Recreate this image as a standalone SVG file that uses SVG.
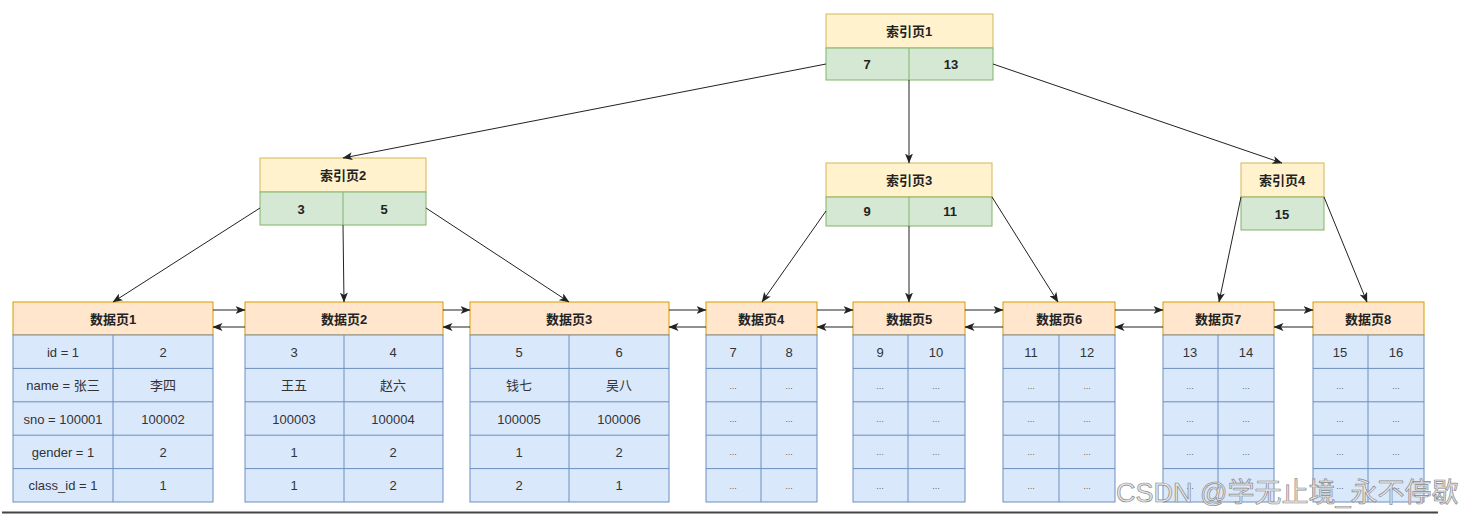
<svg xmlns="http://www.w3.org/2000/svg" width="1470" height="516" viewBox="0 0 1470 516">
<defs>
<marker id="arr" viewBox="0 0 10 8" refX="9.5" refY="4" markerWidth="10" markerHeight="8" markerUnits="userSpaceOnUse" orient="auto">
<path d="M0,0 L10,4 L0,8 L2.5,4 z" fill="#222"/>
</marker>
<style>
.ih{fill:#fff2cc;stroke:#d6b656;stroke-width:1}
.ib{fill:#d5e8d4;stroke:#82b366;stroke-width:1}
.dh{fill:#ffe6cc;stroke:#d79b00;stroke-width:1}
.db{fill:#dae8fc;stroke:#6c8ebf;stroke-width:1}
.t{font-family:"Liberation Sans","Noto Sans CJK SC",sans-serif;font-size:13px;text-anchor:middle;dominant-baseline:central}
.b{font-weight:bold;fill:#222}
.c{fill:#333}
.d{font-size:9px;fill:#666}
.ln{stroke:#222;stroke-width:1;fill:none;marker-end:url(#arr)}
</style>
</defs>
<rect width="1470" height="516" fill="#ffffff"/>

<g id="index1">
<rect class="ih" x="826" y="14" width="167" height="34"/>
<rect class="ib" x="826" y="48" width="167" height="32"/>
<line x1="909" y1="48" x2="909" y2="80" stroke="#82b366"/>
<text class="t b" x="909" y="31">索引页1</text>
<text class="t b" x="867" y="64">7</text>
<text class="t b" x="951" y="64">13</text>
</g>
<g id="index2">
<rect class="ih" x="260" y="158" width="166" height="34"/>
<rect class="ib" x="260" y="192" width="166" height="33"/>
<line x1="343" y1="192" x2="343" y2="225" stroke="#82b366"/>
<text class="t b" x="343" y="175">索引页2</text>
<text class="t b" x="301" y="209">3</text>
<text class="t b" x="384" y="209">5</text>
</g>
<g id="index3">
<rect class="ih" x="826" y="163" width="166" height="34"/>
<rect class="ib" x="826" y="197" width="166" height="29"/>
<line x1="909" y1="197" x2="909" y2="226" stroke="#82b366"/>
<text class="t b" x="909" y="180">索引页3</text>
<text class="t b" x="867" y="211">9</text>
<text class="t b" x="950" y="211">11</text>
</g>
<g id="index4">
<rect class="ih" x="1241" y="163" width="83" height="34"/>
<rect class="ib" x="1241" y="197" width="83" height="33"/>
<text class="t b" x="1282" y="180">索引页4</text>
<text class="t b" x="1282" y="214">15</text>
</g>

<g id="data1">
<rect class="dh" x="13" y="302" width="200" height="33"/>
<rect class="db" x="13" y="335" width="200" height="167"/>
<path d="M13,368.4H213M13,401.8H213M13,435.2H213M13,468.6H213M113,335V502" stroke="#6c8ebf" fill="none"/>
<text class="t b" x="113" y="319">数据页1</text>
<text class="t c" x="63" y="352">id = 1</text><text class="t c" x="163" y="352">2</text>
<text class="t c" x="63" y="385">name = 张三</text><text class="t c" x="163" y="385">李四</text>
<text class="t c" x="63" y="419">sno = 100001</text><text class="t c" x="163" y="419">100002</text>
<text class="t c" x="63" y="452">gender = 1</text><text class="t c" x="163" y="452">2</text>
<text class="t c" x="63" y="485">class_id = 1</text><text class="t c" x="163" y="485">1</text>
</g>
<g id="data2">
<rect class="dh" x="245" y="302" width="198" height="33"/>
<rect class="db" x="245" y="335" width="198" height="167"/>
<path d="M245,368.4H443M245,401.8H443M245,435.2H443M245,468.6H443M344,335V502" stroke="#6c8ebf" fill="none"/>
<text class="t b" x="344" y="319">数据页2</text>
<text class="t c" x="294" y="352">3</text><text class="t c" x="393" y="352">4</text>
<text class="t c" x="294" y="385">王五</text><text class="t c" x="393" y="385">赵六</text>
<text class="t c" x="294" y="419">100003</text><text class="t c" x="393" y="419">100004</text>
<text class="t c" x="294" y="452">1</text><text class="t c" x="393" y="452">2</text>
<text class="t c" x="294" y="485">1</text><text class="t c" x="393" y="485">2</text>
</g>
<g id="data3">
<rect class="dh" x="470" y="302" width="199" height="33"/>
<rect class="db" x="470" y="335" width="199" height="167"/>
<path d="M470,368.4H669M470,401.8H669M470,435.2H669M470,468.6H669M569,335V502" stroke="#6c8ebf" fill="none"/>
<text class="t b" x="569" y="319">数据页3</text>
<text class="t c" x="519" y="352">5</text><text class="t c" x="619" y="352">6</text>
<text class="t c" x="519" y="385">钱七</text><text class="t c" x="619" y="385">吴八</text>
<text class="t c" x="519" y="419">100005</text><text class="t c" x="619" y="419">100006</text>
<text class="t c" x="519" y="452">1</text><text class="t c" x="619" y="452">2</text>
<text class="t c" x="519" y="485">2</text><text class="t c" x="619" y="485">1</text>
</g>
<g id="data4">
<rect class="dh" x="706" y="302" width="111" height="33"/>
<rect class="db" x="706" y="335" width="111" height="167"/>
<path d="M706,368.4H817M706,401.8H817M706,435.2H817M706,468.6H817M761,335V502" stroke="#6c8ebf" fill="none"/>
<text class="t b" x="761" y="319">数据页4</text>
<text class="t c" x="733" y="352">7</text><text class="t c" x="789" y="352">8</text>
<text class="t d" x="733" y="386">...</text><text class="t d" x="789" y="386">...</text>
<text class="t d" x="733" y="419">...</text><text class="t d" x="789" y="419">...</text>
<text class="t d" x="733" y="452">...</text><text class="t d" x="789" y="452">...</text>
<text class="t d" x="733" y="486">...</text><text class="t d" x="789" y="486">...</text>
</g>
<g id="data5">
<rect class="dh" x="853" y="302" width="112" height="33"/>
<rect class="db" x="853" y="335" width="112" height="167"/>
<path d="M853,368.4H965M853,401.8H965M853,435.2H965M853,468.6H965M908,335V502" stroke="#6c8ebf" fill="none"/>
<text class="t b" x="909" y="319">数据页5</text>
<text class="t c" x="880" y="352">9</text><text class="t c" x="936" y="352">10</text>
<text class="t d" x="880" y="386">...</text><text class="t d" x="936" y="386">...</text>
<text class="t d" x="880" y="419">...</text><text class="t d" x="936" y="419">...</text>
<text class="t d" x="880" y="452">...</text><text class="t d" x="936" y="452">...</text>
<text class="t d" x="880" y="486">...</text><text class="t d" x="936" y="486">...</text>
</g>
<g id="data6">
<rect class="dh" x="1003" y="302" width="112" height="33"/>
<rect class="db" x="1003" y="335" width="112" height="167"/>
<path d="M1003,368.4H1115M1003,401.8H1115M1003,435.2H1115M1003,468.6H1115M1059,335V502" stroke="#6c8ebf" fill="none"/>
<text class="t b" x="1059" y="319">数据页6</text>
<text class="t c" x="1031" y="352">11</text><text class="t c" x="1087" y="352">12</text>
<text class="t d" x="1031" y="386">...</text><text class="t d" x="1087" y="386">...</text>
<text class="t d" x="1031" y="419">...</text><text class="t d" x="1087" y="419">...</text>
<text class="t d" x="1031" y="452">...</text><text class="t d" x="1087" y="452">...</text>
<text class="t d" x="1031" y="486">...</text><text class="t d" x="1087" y="486">...</text>
</g>
<g id="data7">
<rect class="dh" x="1163" y="302" width="111" height="33"/>
<rect class="db" x="1163" y="335" width="111" height="167"/>
<path d="M1163,368.4H1274M1163,401.8H1274M1163,435.2H1274M1163,468.6H1274M1218,335V502" stroke="#6c8ebf" fill="none"/>
<text class="t b" x="1218" y="319">数据页7</text>
<text class="t c" x="1190" y="352">13</text><text class="t c" x="1246" y="352">14</text>
<text class="t d" x="1190" y="386">...</text><text class="t d" x="1246" y="386">...</text>
<text class="t d" x="1190" y="419">...</text><text class="t d" x="1246" y="419">...</text>
<text class="t d" x="1190" y="452">...</text><text class="t d" x="1246" y="452">...</text>
<text class="t d" x="1190" y="486">...</text><text class="t d" x="1246" y="486">...</text>
</g>
<g id="data8">
<rect class="dh" x="1313" y="302" width="111" height="33"/>
<rect class="db" x="1313" y="335" width="111" height="167"/>
<path d="M1313,368.4H1424M1313,401.8H1424M1313,435.2H1424M1313,468.6H1424M1368,335V502" stroke="#6c8ebf" fill="none"/>
<text class="t b" x="1368" y="319">数据页8</text>
<text class="t c" x="1340" y="352">15</text><text class="t c" x="1396" y="352">16</text>
<text class="t d" x="1340" y="386">...</text><text class="t d" x="1396" y="386">...</text>
<text class="t d" x="1340" y="419">...</text><text class="t d" x="1396" y="419">...</text>
<text class="t d" x="1340" y="452">...</text><text class="t d" x="1396" y="452">...</text>
<text class="t d" x="1340" y="486">...</text><text class="t d" x="1396" y="486">...</text>
</g>

<g id="connectors">
<line class="ln" x1="826" y1="64" x2="343" y2="158"/>
<line class="ln" x1="909" y1="80" x2="909" y2="163"/>
<line class="ln" x1="993" y1="64" x2="1282" y2="163"/>
<line class="ln" x1="260" y1="208" x2="113" y2="302"/>
<line class="ln" x1="343" y1="225" x2="344" y2="302"/>
<line class="ln" x1="426" y1="208" x2="569" y2="302"/>
<line class="ln" x1="826" y1="211" x2="762" y2="302"/>
<line class="ln" x1="909" y1="226" x2="909" y2="302"/>
<line class="ln" x1="992" y1="197" x2="1058" y2="302"/>
<line class="ln" x1="1241" y1="197" x2="1219" y2="302"/>
<line class="ln" x1="1324" y1="197" x2="1367" y2="302"/>
<line class="ln" x1="213" y1="310" x2="245" y2="310"/>
<line class="ln" x1="245" y1="327" x2="213" y2="327"/>
<line class="ln" x1="443" y1="310" x2="470" y2="310"/>
<line class="ln" x1="470" y1="327" x2="443" y2="327"/>
<line class="ln" x1="669" y1="310" x2="706" y2="310"/>
<line class="ln" x1="706" y1="327" x2="669" y2="327"/>
<line class="ln" x1="817" y1="310" x2="853" y2="310"/>
<line class="ln" x1="853" y1="327" x2="817" y2="327"/>
<line class="ln" x1="965" y1="310" x2="1003" y2="310"/>
<line class="ln" x1="1003" y1="327" x2="965" y2="327"/>
<line class="ln" x1="1115" y1="310" x2="1163" y2="310"/>
<line class="ln" x1="1163" y1="327" x2="1115" y2="327"/>
<line class="ln" x1="1274" y1="310" x2="1313" y2="310"/>
<line class="ln" x1="1313" y1="327" x2="1274" y2="327"/>
</g>

<line x1="2" y1="512.5" x2="1438" y2="512.5" stroke="#444" stroke-width="2"/>
<text x="1116" y="502" font-family="'Liberation Sans','Noto Sans CJK SC',sans-serif" font-size="27" fill="#e6e6e6" stroke="#8a8a8a" stroke-width="0.7">CSDN @学无止境_永不停歇</text>
</svg>
